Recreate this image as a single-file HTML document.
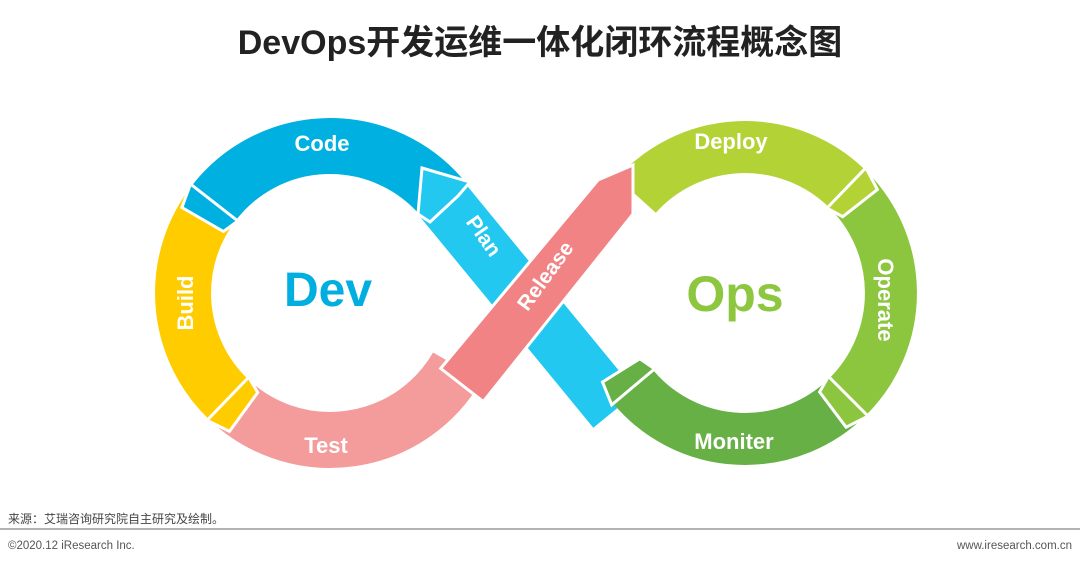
<!DOCTYPE html>
<html><head><meta charset="utf-8"><style>
body{margin:0;width:1080px;height:564px;background:#fff;overflow:hidden;font-family:"Liberation Sans","Noto Sans CJK SC",sans-serif}
</style></head><body>
<svg id="s" width="1080" height="564" xmlns="http://www.w3.org/2000/svg" style="position:absolute;left:0;top:0">
<text x="540" y="54" text-anchor="middle" font-size="34" font-weight="bold" fill="#222" font-family="Liberation Sans,Noto Sans CJK SC,sans-serif">DevOps开发运维一体化闭环流程概念图</text>
<!-- Plan band -->
<polygon points="461.7,179.3 418.3,214.7 593.3,427.7 636.7,392.3" fill="#22c8f0"/>
<g fill="none">
<path d="M457.3,366.5 A147,147 0 0 1 227.9,398.7" stroke="#f49b9b" stroke-width="56"/>
<path d="M227.9,398.7 A147,147 0 0 1 214.2,202.5" stroke="#ffcc00" stroke-width="56"/>
<path d="M214.2,202.5 A147,147 0 0 1 441,196.6" stroke="#00b0e0" stroke-width="56"/>
<path d="M636.5,195.3 A146,146 0 0 1 846.4,188" stroke="#b3d235" stroke-width="52"/>
<path d="M846.4,188 A146,146 0 0 1 848.2,396.2" stroke="#8cc63f" stroke-width="52"/>
<path d="M848.2,396.2 A146,146 0 0 1 633.2,386.9" stroke="#66b046" stroke-width="52"/>
</g>
<!-- Plan arrowhead -->
<polygon points="422,168 470,182 458,196 430,222 418,214" fill="#22c8f0" stroke="#fff" stroke-width="3"/>
<!-- Release band -->
<polygon points="440.7,368.4 483.3,401.6 633,214 633,165 598,180" fill="#f28385" stroke="#fff" stroke-width="3"/>
<g id="heads"></g>
<text x="322" y="151" text-anchor="middle" font-size="22" font-weight="bold" fill="#fff">Code</text>
<text transform="translate(193,303) rotate(-90)" text-anchor="middle" font-size="22" font-weight="bold" fill="#fff">Build</text>
<text x="326" y="453" text-anchor="middle" font-size="22" font-weight="bold" fill="#fff">Test</text>
<text transform="translate(478,240) rotate(55)" text-anchor="middle" font-size="21" font-weight="bold" fill="#fff">Plan</text>
<text transform="translate(551,280) rotate(-54)" text-anchor="middle" font-size="21" font-weight="bold" fill="#fff">Release</text>
<text x="731" y="149" text-anchor="middle" font-size="22" font-weight="bold" fill="#fff">Deploy</text>
<text transform="translate(878,300) rotate(90)" text-anchor="middle" font-size="22" font-weight="bold" fill="#fff">Operate</text>
<text x="734" y="449" text-anchor="middle" font-size="22" font-weight="bold" fill="#fff">Moniter</text>
<text x="328" y="306" text-anchor="middle" font-size="48" font-weight="bold" fill="#00aee0">Dev</text>
<text x="735" y="311" text-anchor="middle" font-size="50" font-weight="bold" fill="#8dc63f">Ops</text>
<text x="8" y="523" font-size="12" fill="#444" font-family="Liberation Sans,Noto Sans CJK SC,sans-serif">来源：艾瑞咨询研究院自主研究及绘制。</text>
<line x1="0" y1="529" x2="1080" y2="529" stroke="#999" stroke-width="1.5"/>
<text x="8" y="549" font-size="11.5" fill="#555">©2020.12 iResearch Inc.</text>
<text x="1072" y="549" text-anchor="end" font-size="11.5" fill="#555">www.iresearch.com.cn</text>
</svg>
<script>
var g=document.getElementById('heads'),ns='http://www.w3.org/2000/svg';
function head(cx,cy,r,w,th,dir,col){var a=th*Math.PI/180,t=(th+dir*8)*Math.PI/180;
var p=[[cx+(r-w)*Math.cos(a),cy+(r-w)*Math.sin(a)],[cx+(r-w+6)*Math.cos(t),cy+(r-w+6)*Math.sin(t)],[cx+(r+w-6)*Math.cos(t),cy+(r+w-6)*Math.sin(t)],[cx+(r+w)*Math.cos(a),cy+(r+w)*Math.sin(a)]];
var e=document.createElementNS(ns,'polygon');e.setAttribute('points',p.map(function(q){return q.join(',')}).join(' '));
e.setAttribute('fill',col);e.setAttribute('stroke','#fff');e.setAttribute('stroke-width','3');g.appendChild(e);}
head(330,293,147,30,218,-1,'#00b0e0');
head(330,293,147,30,134,-1,'#ffcc00');
head(745,293,146,28,314,1,'#b3d235');
head(745,293,146,28,405,1,'#8cc63f');
head(745,293,146,28,140,1,'#66b046');
</script>
</body></html>
